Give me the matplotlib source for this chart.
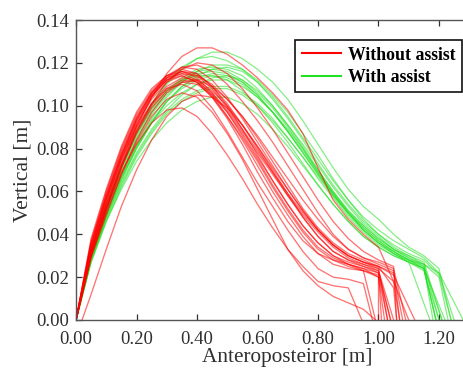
import matplotlib
matplotlib.use("Agg")
import matplotlib.pyplot as plt
import numpy as np

plt.rcParams["font.family"] = ["Liberation Serif", "DejaVu Serif"]

STEP = 0.05  # sampling interval of the trajectories (x = 0.05, 0.10, ...)

# without assist: start x, heights sampled every 0.05 m from x=0.05, end x (y=0)
red_start = [0, 0, 0, 0, 0, 0, 0, 0, 0, 0, 0, 0.02, 0, 0, 0, 0, 0, 0, 0, 0]
red_end = [1.07, 1.05, 1.04, 1.02, 0.945, 0.98, 0.99, 1.08, 1.10, 1.03,
           1.06, 1.04, 1.12, 1.01, 1.07, 1.03, 1.00, 1.09, 0.99, 1.06]
red_y = [
    [.030, .052, .072, .090, .104, .115, .123, .127, .127, .124, .119, .113, .106, .098, .087, .071, .056, .047, .040, .034, .018],
    [.032, .053, .072, .088, .100, .108, .112, .111, .106, .098, .088, .078, .068, .058, .049, .041, .034, .029, .026, .023],
    [.035, .057, .076, .092, .104, .112, .116, .115, .109, .100, .089, .077, .065, .054, .044, .036, .030, .027, .025, .023],
    [.033, .055, .075, .091, .103, .111, .114, .111, .104, .094, .082, .069, .057, .046, .037, .031, .028, .026, .024, .020],
    [.031, .052, .069, .082, .092, .098, .099, .095, .087, .077, .066, .054, .043, .033, .025, .018, .016, .015],
    [.034, .056, .075, .090, .101, .108, .110, .107, .099, .088, .076, .064, .053, .042, .032, .024, .020, .019, .017],
    [.030, .050, .068, .083, .095, .103, .106, .104, .097, .087, .075, .061, .047, .033, .023, .016, .011, .008, .005],
    [.036, .059, .079, .095, .106, .113, .116, .114, .108, .099, .089, .079, .069, .059, .050, .042, .035, .030, .027, .025, .022],
    [.033, .054, .073, .089, .101, .109, .113, .112, .107, .100, .091, .081, .071, .061, .051, .042, .035, .030, .027, .024, .018],
    [.037, .060, .080, .096, .107, .114, .117, .115, .109, .101, .091, .080, .069, .058, .048, .039, .032, .028, .026, .024],
    [.029, .049, .068, .084, .097, .106, .111, .112, .109, .103, .095, .085, .074, .063, .052, .043, .036, .031, .028, .025, .015],
    [.012, .033, .053, .070, .084, .095, .102, .105, .104, .099, .091, .081, .070, .059, .048, .039, .032, .028, .025, .022],
    [.034, .057, .077, .094, .106, .114, .118, .117, .112, .104, .094, .083, .072, .061, .051, .042, .035, .030, .027, .025, .021],
    [.038, .061, .081, .097, .108, .114, .116, .113, .106, .097, .086, .075, .063, .052, .042, .034, .029, .026, .024, .022],
    [.032, .054, .074, .091, .104, .113, .118, .119, .116, .110, .102, .093, .083, .072, .061, .050, .040, .033, .029, .026, .023],
    [.035, .058, .078, .094, .106, .113, .115, .112, .105, .095, .084, .072, .060, .049, .039, .031, .026, .024, .023, .021],
    [.031, .052, .071, .087, .099, .107, .111, .110, .105, .097, .087, .076, .065, .054, .044, .036, .030, .026, .023, .020],
    [.036, .058, .077, .093, .105, .112, .115, .114, .110, .103, .095, .086, .076, .066, .056, .047, .039, .033, .029, .027, .024],
    [.033, .056, .076, .093, .105, .112, .114, .111, .104, .095, .085, .074, .062, .051, .041, .033, .028, .025, .023],
    [.030, .051, .071, .088, .101, .111, .117, .120, .119, .115, .108, .099, .089, .078, .067, .056, .046, .038, .032, .028, .025],
]

# with assist
green_start = [0] * 15
green_end = [1.24, 1.20, 1.21, 1.19, 1.23, 1.19, 1.25, 1.17, 1.28,
             1.20, 1.22, 1.24, 1.18, 1.21, 1.19]
green_y = [
    [.030, .052, .071, .087, .100, .110, .117, .122, .125, .125, .122, .117, .111, .103, .093, .082, .071, .061, .053, .047, .040, .034, .030, .024],
    [.028, .048, .064, .078, .089, .098, .105, .110, .113, .114, .112, .107, .100, .091, .082, .072, .062, .053, .045, .039, .033, .029, .026],
    [.031, .053, .071, .086, .098, .107, .113, .117, .118, .117, .114, .108, .100, .091, .081, .070, .060, .051, .044, .038, .033, .030, .027],
    [.027, .046, .061, .074, .084, .092, .098, .102, .104, .104, .101, .096, .089, .081, .072, .063, .054, .046, .039, .034, .030, .027, .024],
    [.029, .050, .067, .082, .094, .104, .111, .116, .119, .119, .117, .112, .105, .097, .087, .077, .066, .056, .047, .040, .034, .030, .026, .020],
    [.030, .051, .069, .084, .096, .105, .111, .115, .116, .115, .111, .105, .097, .088, .078, .068, .059, .050, .043, .037, .032, .028, .024],
    [.028, .047, .063, .077, .088, .097, .103, .107, .109, .109, .106, .101, .094, .085, .076, .066, .057, .048, .041, .035, .031, .028, .026, .022],
    [.032, .054, .072, .087, .099, .107, .112, .114, .114, .112, .107, .100, .092, .083, .073, .063, .054, .046, .039, .034, .030, .027],
    [.029, .049, .066, .080, .092, .102, .109, .114, .117, .118, .116, .111, .104, .095, .085, .075, .065, .056, .048, .042, .037, .033, .029, .022],
    [.030, .052, .070, .085, .097, .106, .112, .116, .117, .116, .112, .106, .099, .090, .080, .069, .059, .050, .042, .036, .031, .027, .023],
    [.027, .046, .062, .076, .087, .096, .102, .106, .108, .108, .105, .100, .093, .085, .076, .067, .058, .050, .043, .037, .032, .028, .024],
    [.031, .053, .072, .088, .101, .111, .118, .122, .123, .121, .117, .111, .103, .094, .084, .073, .063, .054, .046, .040, .035, .031, .028, .021],
    [.029, .049, .066, .081, .093, .102, .108, .112, .114, .113, .110, .104, .097, .089, .080, .070, .060, .051, .044, .038, .033, .029, .025],
    [.028, .048, .065, .080, .092, .102, .109, .113, .115, .114, .111, .105, .097, .088, .078, .068, .058, .049, .042, .036, .032, .028, .025],
    [.030, .050, .067, .081, .092, .100, .106, .110, .112, .112, .109, .104, .097, .088, .079, .069, .059, .050, .042, .036, .031, .027, .024],
]

x_ticks = [0.0, 0.2, 0.4, 0.6, 0.8, 1.0, 1.2]
y_ticks = [0.0, 0.02, 0.04, 0.06, 0.08, 0.10, 0.12, 0.14]

RED = "#FF0000"
GREEN = "#22E022"
INK = "#303030"


def trajectory(x0, ys, x_end):
    xs = STEP * np.arange(1, len(ys) + 1)
    return np.r_[x0, xs, x_end], np.r_[0.0, ys, 0.0]


fig = plt.figure(figsize=(4.64, 3.72), dpi=100, facecolor="white")
ax = fig.add_axes([0.1638, 0.1398, 0.9127, 0.8064])

for i, (x0, ys, xe) in enumerate(zip(green_start, green_y, green_end)):
    x, y = trajectory(x0, ys, xe)
    ax.plot(x, y, color=GREEN, lw=0.9, alpha=0.55,
            label="With assist" if i == 0 else None)

for i, (x0, ys, xe) in enumerate(zip(red_start, red_y, red_end)):
    x, y = trajectory(x0, ys, xe)
    ax.plot(x, y, color=RED, lw=0.95, alpha=0.55,
            label="Without assist" if i == 0 else None)

ax.set_xlim(0, 1.4)
ax.set_ylim(0, 0.14)
ax.set_xticks(x_ticks)
ax.set_yticks(y_ticks)
ax.xaxis.set_major_formatter(matplotlib.ticker.FormatStrFormatter("%.2f"))
ax.yaxis.set_major_formatter(matplotlib.ticker.FormatStrFormatter("%.2f"))
ax.tick_params(direction="in", length=4, width=0.9, top=True, right=True,
               labelsize=13.5, colors=INK)
ax.tick_params(axis="x", pad=8)
ax.tick_params(axis="y", pad=5)
for s in ax.spines.values():
    s.set_color("#555555")
    s.set_linewidth(1.0)

ax.set_xlabel("Anteroposteiror [m]", fontsize=15.3, color=INK, labelpad=0)
ax.set_ylabel("Vertical [m]", fontsize=15.5, color=INK, labelpad=3)

handles, labels = ax.get_legend_handles_labels()
leg = ax.legend(handles[::-1], labels[::-1], loc="upper left",
                bbox_to_anchor=(0.497, 0.962), fancybox=False, framealpha=1,
                edgecolor="#111111", handlelength=2.2, handletextpad=0.4,
                borderpad=0.35, labelspacing=0.3,
                prop={"weight": "bold", "size": 12.8})
leg.get_frame().set_linewidth(1.2)
for h in leg.get_lines():
    h.set_alpha(1)
    h.set_linewidth(1.5)

fig.savefig("out.png", dpi=100, facecolor="white")
